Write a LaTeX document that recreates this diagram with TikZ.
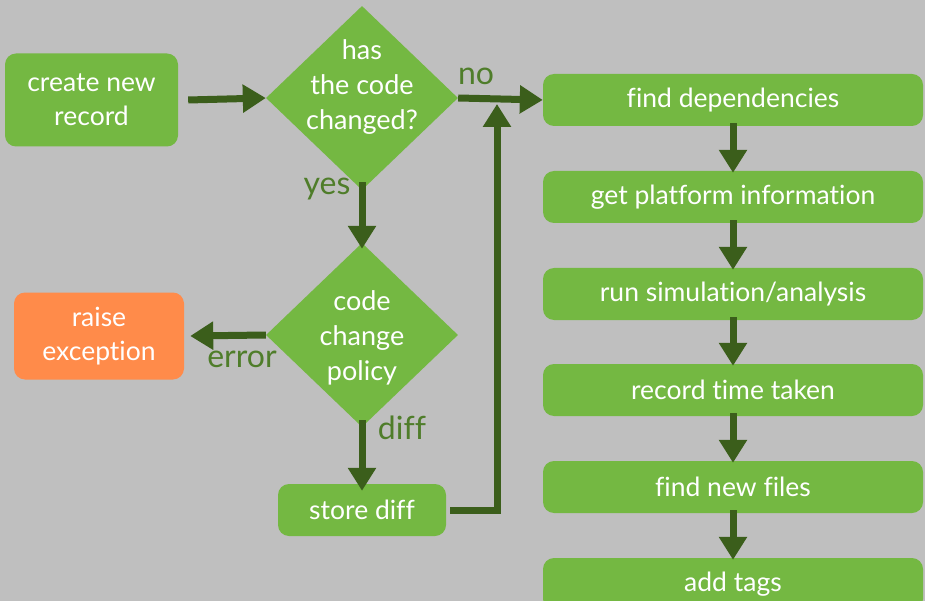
\documentclass[tikz,border=0pt]{standalone}
\usepackage{fontspec}
\setmainfont{Lato}[Ligatures={NoCommon}]
\usetikzlibrary{arrows.meta,shapes.geometric}
\definecolor{bggray}{HTML}{BFBFBF}
\definecolor{leaf}{HTML}{74B842}
\definecolor{stem}{HTML}{3B5E1B}
\definecolor{tagtxt}{HTML}{4F7D2A}
\definecolor{warn}{HTML}{FF8B4A}
\tikzset{
  box/.style={rounded corners=11pt, fill=leaf, draw=none, text=white,
    font=\fontsize{26.5}{34}\selectfont, align=center, inner sep=0pt},
  stepbox/.style={box, minimum width=380pt, minimum height=52pt},
  dia/.style={diamond, fill=leaf, draw=none, inner sep=0pt,
    minimum width=192pt, minimum height=184pt},
  diatext/.style={text=white, font=\fontsize{27}{35}\selectfont, align=center, inner sep=0pt},
  flow/.style={draw=stem, line width=7pt, -{Triangle[width=27pt,length=23pt]}},
  tag/.style={text=tagtxt, font=\fontsize{32}{34}\selectfont, inner sep=0pt}
}
\begin{document}
\begin{tikzpicture}[x=1pt,y=-1pt]
  \fill[bggray] (0,0) rectangle (925,601);
  \useasboundingbox (0,0) rectangle (925,601);

  % left column
  \node[box, minimum width=173pt, minimum height=93pt] (create) at (91.5,100) {create new\\record};
  \node[dia] (changed) at (362,98) {};
  \node[diatext] (changedtxt) at (362,87) {has\\the code\\changed?};
  \node[dia] (policy) at (362,335) {};
  \node[diatext] (policytxt) at (362,338) {code\\change\\policy};
  \node[box, fill=warn, minimum width=170pt, minimum height=87pt] (raise) at (99,336) {raise\\exception};
  \node[box, minimum width=168pt, minimum height=52pt] (store) at (362,510) {store diff};

  % right column
  \node[stepbox] (deps) at (733,100) {find dependencies};
  \node[stepbox] (platform) at (733,197) {get platform information};
  \node[stepbox] (run) at (733,294) {run simulation/analysis};
  \node[stepbox] (time) at (733,390) {record time taken};
  \node[stepbox] (files) at (733,487) {find new files};
  \node[stepbox] (tags) at (733,584) {add tags};

  % branch labels
  \node[tag] (no) at (476,76) {no};
  \node[tag] (yes) at (327,189) {yes};
  \node[tag] (err) at (242,359) {error};
  \node[tag] (diff) at (402,428) {diff};

  % connectors
  \draw[flow] ([xshift=10pt]create.east) -- (changed.west);
  \draw[flow] (changed.east) -- (deps.west);
  \draw[flow] ([yshift=8pt]changed.south) -- ([yshift=-6pt]policy.north);
  \draw[flow] (policy.west) -- ([xshift=6pt]raise.east);
  \draw[flow] ([yshift=7pt]policy.south) -- ([yshift=-7pt]store.north);
  \coordinate (join) at (497,104);
  \draw[flow] ([xshift=4pt]store.east) -| (join);

  \foreach \a/\b in {deps/platform, platform/run, run/time, time/files, files/tags}
    \draw[flow] ([yshift=3pt]\a.south) -- ([yshift=-2pt]\b.north);
\end{tikzpicture}
\end{document}
